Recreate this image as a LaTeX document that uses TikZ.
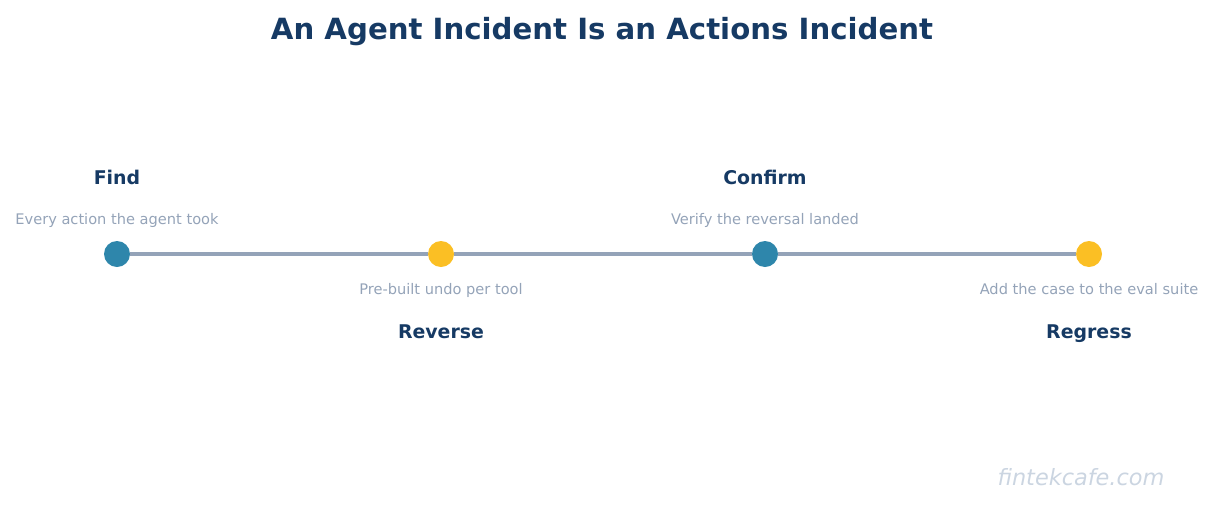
\documentclass[tikz,border=0pt]{standalone}
\usepackage{fontspec}
\setmainfont{DejaVu Sans}
\definecolor{navy}{HTML}{163A64}
\definecolor{dotblue}{HTML}{2E86AB}
\definecolor{dotyellow}{HTML}{FBBF24}
\definecolor{linegray}{HTML}{94A3B8}
\definecolor{subgray}{HTML}{94A3B8}
\definecolor{wmgray}{HTML}{CBD5E1}
\begin{document}
\begin{tikzpicture}[x=1pt,y=-1pt,
  dot/.style={circle,minimum size=26pt,inner sep=0pt},
  steptitle/.style={font=\fontsize{18.9}{22}\selectfont\bfseries,text=navy,inner sep=0pt,anchor=base},
  stepsub/.style={font=\fontsize{14.6}{17}\selectfont,text=subgray,inner sep=0pt,anchor=base},
  conn/.style={draw=linegray,line width=4pt}]
\useasboundingbox (0,0) rectangle (1213,504);
\node[font=\fontsize{29.2}{34}\selectfont\bfseries,text=navy,inner sep=0pt,anchor=base] (title) at (602,39) {An Agent Incident Is an Actions Incident};
\node[dot,fill=dotblue] (n1) at (117,254) {};
\node[dot,fill=dotyellow] (n2) at (441,254) {};
\node[dot,fill=dotblue] (n3) at (765,254) {};
\node[dot,fill=dotyellow] (n4) at (1089,254) {};
\draw[conn] (n1) -- (n2);
\draw[conn] (n2) -- (n3);
\draw[conn] (n3) -- (n4);
\node[steptitle] (t1) at (117,184) {Find};
\node[stepsub] (s1) at (117,224.5) {Every action the agent took};
\node[steptitle] (t2) at (441,338) {Reverse};
\node[stepsub] (s2) at (441,294.5) {Pre-built undo per tool};
\node[steptitle] (t3) at (765,184) {Confirm};
\node[stepsub] (s3) at (765,224.5) {Verify the reversal landed};
\node[steptitle] (t4) at (1089,338) {Regress};
\node[stepsub] (s4) at (1089,294.5) {Add the case to the eval suite};
\node[font=\fontsize{22.4}{26}\selectfont\itshape,text=wmgray,inner sep=0pt,anchor=base] (wm) at (1081,485) {fintekcafe.com};
\end{tikzpicture}
\end{document}
